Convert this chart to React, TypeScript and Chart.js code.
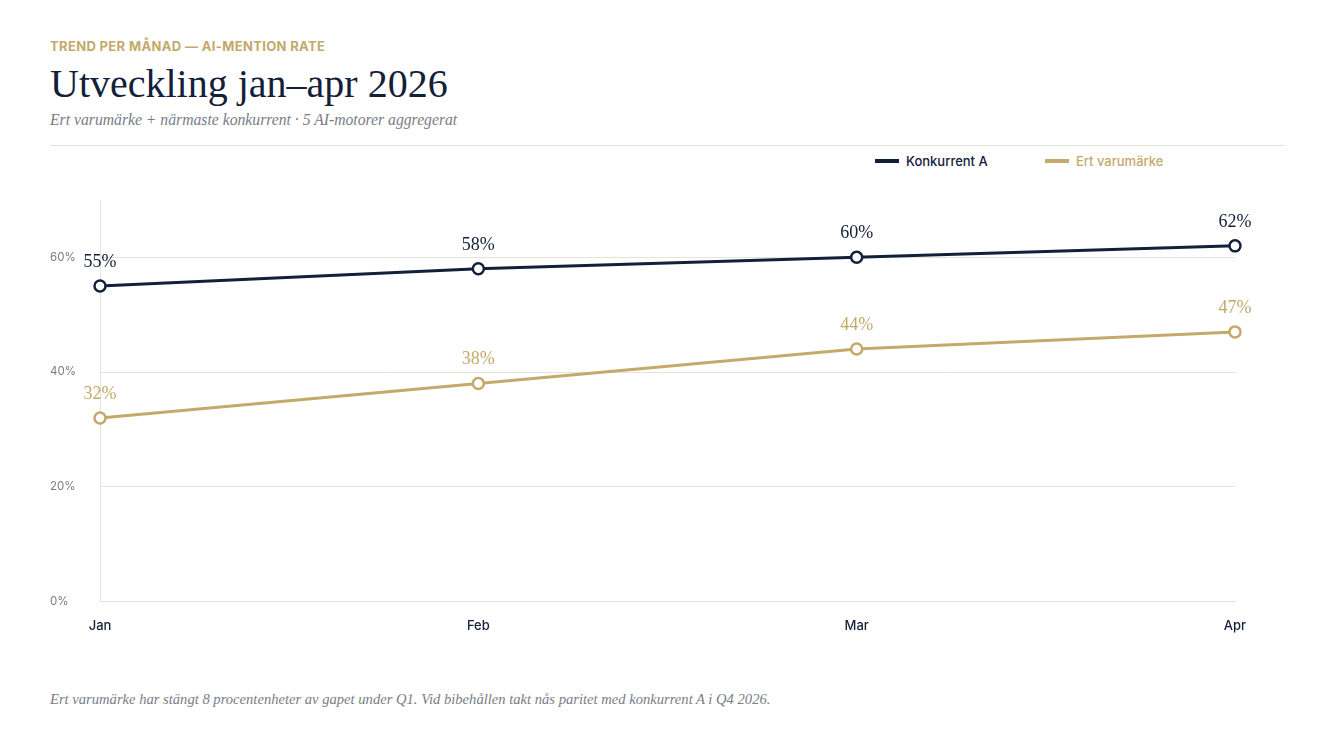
import React, { useEffect, useRef } from "react";
import { Chart, registerables } from "chart.js";

Chart.register(...registerables);

const months = ["Jan", "Feb", "Mar", "Apr"];
const konkurrentA = [55, 58, 60, 62];
const ertVarumarke = [32, 38, 44, 47];
const yTicks = [0, 20, 40, 60];
const seriesNames = ["Konkurrent A", "Ert varumärke"];

const NAVY = "#13203a";
const GOLD = "#c4a96b";
const GRID = "#e6e3dd";
const GRAY = "#7a7d86";
const SERIF = "'Liberation Serif', 'DejaVu Serif', serif";
const SANS = "Inter, 'Noto Sans', sans-serif";

const valueLabels = {
  id: "valueLabels",
  afterDatasetsDraw(chart: any) {
    const ctx = chart.ctx;
    ctx.save();
    ctx.font = `18px ${SERIF}`;
    ctx.textAlign = "center";
    ctx.textBaseline = "middle";
    chart.data.datasets.forEach((ds: any, i: number) => {
      const meta = chart.getDatasetMeta(i);
      ctx.fillStyle = ds.borderColor;
      meta.data.forEach((pt: any, j: number) => {
        ctx.fillText(`${ds.data[j]}%`, pt.x, pt.y - 24);
      });
    });
    ctx.restore();
  },
};

function ChartCanvas() {
  const ref = useRef<HTMLCanvasElement | null>(null);
  useEffect(() => {
    if (!ref.current) return;
    const chart = new Chart(ref.current, {
      type: "line",
      data: {
        labels: months,
        datasets: [
          {
            label: seriesNames[0],
            data: konkurrentA,
            borderColor: NAVY,
            backgroundColor: NAVY,
            borderWidth: 3,
            pointRadius: 5.5,
            pointBorderWidth: 2.5,
            pointBackgroundColor: "#ffffff",
            pointBorderColor: NAVY,
            tension: 0,
          },
          {
            label: seriesNames[1],
            data: ertVarumarke,
            borderColor: GOLD,
            backgroundColor: GOLD,
            borderWidth: 3,
            pointRadius: 5.5,
            pointBorderWidth: 2.5,
            pointBackgroundColor: "#ffffff",
            pointBorderColor: GOLD,
            tension: 0,
          },
        ],
      },
      options: {
        animation: false,
        responsive: false,
        maintainAspectRatio: false,
        layout: { padding: { top: 20, right: 50, bottom: 8, left: 0 } },
        plugins: {
          legend: { display: false },
          tooltip: { enabled: false },
        },
        scales: {
          x: {
            grid: { display: false },
            border: { display: true, color: GRID, width: 1 },
            ticks: {
              color: NAVY,
              padding: 9,
              font: { family: SANS, size: 13, weight: 500 as any },
            },
          },
          y: {
            min: 0,
            max: 70,
            afterBuildTicks: (scale: any) => {
              scale.ticks = yTicks.map((v) => ({ value: v }));
            },
            afterFit: (scale: any) => {
              scale.width = 50;
            },
            grid: { color: GRID, drawTicks: false, lineWidth: 1 },
            border: { display: true, color: GRID, width: 1 },
            ticks: {
              color: GRAY,
              crossAlign: "far",
              padding: 8,
              font: { family: SANS, size: 11.5 },
              callback: (v: any) => `${v}%`,
            },
          },
        },
      },
      plugins: [valueLabels],
    });
    return () => chart.destroy();
  }, []);
  return (
    <canvas
      ref={ref}
      width={1235}
      height={471}
      style={{ position: "absolute", left: 50, top: 180, width: 1235, height: 471 }}
    />
  );
}

export default function App() {
  useEffect(() => {
    document.body.style.margin = "0";
  }, []);
  const legendItem = (left: number, color: string, text: string) => (
    <div
      style={{
        position: "absolute",
        left,
        top: 153,
        height: 16,
        display: "flex",
        alignItems: "center",
        fontFamily: SANS,
        fontSize: 13,
        fontWeight: 500,
        color,
      }}
    >
      <span style={{ display: "inline-block", width: 24, height: 4, background: color, marginRight: 7 }} />
      {text}
    </div>
  );
  return (
    <div style={{ position: "relative", width: 1334, height: 750, background: "#ffffff", overflow: "hidden" }}>
      <div
        style={{
          position: "absolute",
          left: 50,
          top: 38,
          fontFamily: SANS,
          fontWeight: 700,
          fontSize: 13,
          lineHeight: "16px",
          color: GOLD,
          letterSpacing: 0.35,
        }}
      >
        TREND PER MÅNAD — AI-MENTION RATE
      </div>
      <div
        style={{
          position: "absolute",
          left: 50,
          top: 61,
          fontFamily: SERIF,
          fontSize: 40,
          lineHeight: "46px",
          color: NAVY,
        }}
      >
        Utveckling jan–apr 2026
      </div>
      <div
        style={{
          position: "absolute",
          left: 50,
          top: 110,
          fontFamily: SERIF,
          fontStyle: "italic",
          fontSize: 15.7,
          lineHeight: "20px",
          color: GRAY,
        }}
      >
        Ert varumärke + närmaste konkurrent · 5 AI-motorer aggregerat
      </div>
      <div style={{ position: "absolute", left: 50, top: 145, width: 1235, height: 1, background: GRID }} />
      {legendItem(875, NAVY, seriesNames[0])}
      {legendItem(1045, GOLD, seriesNames[1])}
      <ChartCanvas />
      <div
        style={{
          position: "absolute",
          left: 50,
          top: 689,
          fontFamily: SERIF,
          fontStyle: "italic",
          fontSize: 14.6,
          lineHeight: "20px",
          color: GRAY,
        }}
      >
        Ert varumärke har stängt 8 procentenheter av gapet under Q1. Vid bibehållen takt nås paritet med konkurrent A i Q4 2026.
      </div>
    </div>
  );
}
